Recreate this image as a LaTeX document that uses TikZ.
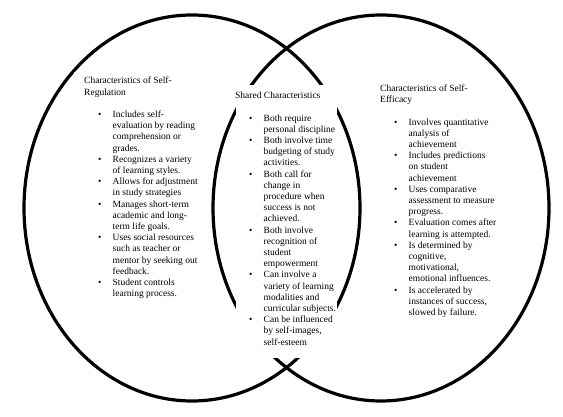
\documentclass[tikz,border=0pt]{standalone}
\usepackage{fontspec}
\setmainfont{Liberation Serif}
\usetikzlibrary{shapes.geometric}
\newcommand\bul{\makebox[28.5pt][l]{\hspace{14pt}\textbullet}}
\newcommand\ind{\hspace*{28.5pt}}
\begin{document}
\begin{tikzpicture}[x=1pt,y=-1pt,
  ring/.style={draw=black, line width=3.2pt, ellipse, minimum width=336pt, minimum height=386pt, inner sep=0pt},
  mask/.style={fill=white, draw=none, inner sep=0pt, anchor=north west},
  block/.style={anchor=north west, inner sep=0pt, font=\fontsize{9.5}{11.2}\selectfont}]
\useasboundingbox[fill=white] (0,0) rectangle (563,417);
\node[ring] (setL) at (192,208) {};
\node[ring] (setR) at (381,208) {};
\node[mask, minimum width=131pt, minimum height=233pt] (maskL) at (73.5,72) {};
\node[mask, minimum width=101pt, minimum height=273pt] (maskS) at (236,85) {};
\node[block] (regul) at (84,75.9) {\begin{tabular}{@{}l@{}}
Characteristics of Self-\\
Regulation\\
\\
\bul Includes self-\\
\ind evaluation by reading\\
\ind comprehension or\\
\ind grades.\\
\bul Recognizes a variety\\
\ind of learning styles.\\
\bul Allows for adjustment\\
\ind in study strategies\\
\bul Manages short-term\\
\ind academic and long-\\
\ind term life goals.\\
\bul Uses social resources\\
\ind such as teacher or\\
\ind mentor by seeking out\\
\ind feedback.\\
\bul Student controls\\
\ind learning process.
\end{tabular}};
\node[block] (shared) at (235,90.7) {\begin{tabular}{@{}l@{}}
Shared Characteristics\\
\\
\bul Both require\\
\ind personal discipline\\
\bul Both involve time\\
\ind budgeting of study\\
\ind activities.\\
\bul Both call for\\
\ind change in\\
\ind procedure when\\
\ind success is not\\
\ind achieved.\\
\bul Both involve\\
\ind recognition of\\
\ind student\\
\ind empowerment\\
\bul Can involve a\\
\ind variety of learning\\
\ind modalities and\\
\ind curricular subjects.\\
\bul Can be influenced\\
\ind by self-images,\\
\ind self-esteem
\end{tabular}};
\node[block] (effic) at (380,83.5) {\begin{tabular}{@{}l@{}}
Characteristics of Self-\\
Efficacy\\
\\
\bul Involves quantitative\\
\ind analysis of\\
\ind achievement\\
\bul Includes predictions\\
\ind on student\\
\ind achievement\\
\bul Uses comparative\\
\ind assessment to measure\\
\ind progress.\\
\bul Evaluation comes after\\
\ind learning is attempted.\\
\bul Is determined by\\
\ind cognitive,\\
\ind motivational,\\
\ind emotional influences.\\
\bul Is accelerated by\\
\ind instances of success,\\
\ind slowed by failure.
\end{tabular}};
\end{tikzpicture}
\end{document}
